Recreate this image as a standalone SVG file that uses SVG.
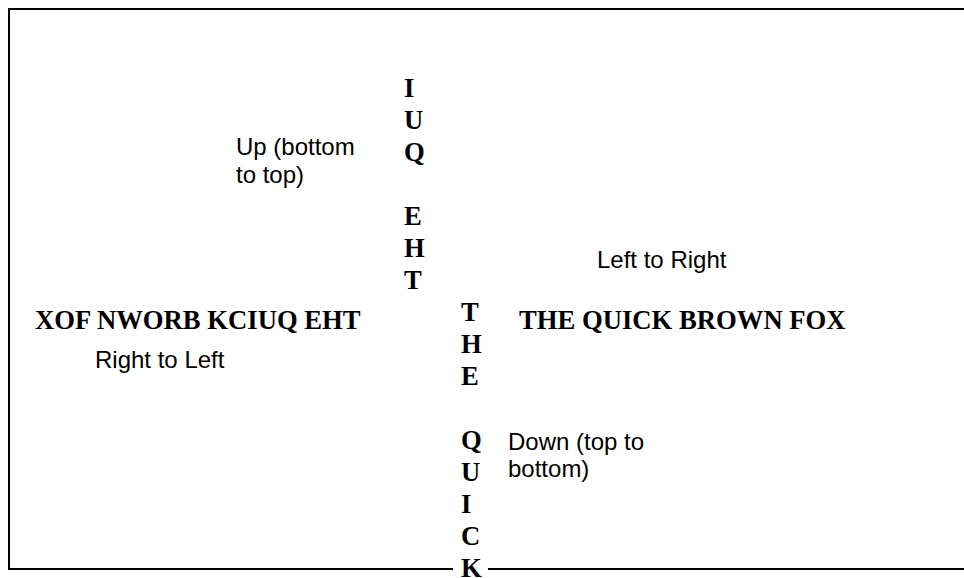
<svg xmlns="http://www.w3.org/2000/svg" width="964" height="578" viewBox="0 0 964 578">
<style>
.frame{fill:none;stroke:#000;stroke-width:2}
.big{font-family:"Liberation Serif","Times New Roman",serif;font-weight:bold;font-size:26.67px;fill:#000}
.cap{font-family:"Liberation Sans",Arial,sans-serif;font-size:24px;fill:#000}
</style>
<rect x="0" y="0" width="964" height="578" fill="#fff"/>
<g id="frame">
<path class="frame" d="M964,9 H9 V569 H453 M488,569 H964"/>
</g>
<g id="up">
<text class="big" x="404" y="97">I</text>
<text class="big" x="404" y="129">U</text>
<text class="big" x="404" y="161">Q</text>
<text class="big" x="404" y="225">E</text>
<text class="big" x="404" y="257">H</text>
<text class="big" x="404" y="289">T</text>
<text class="cap" x="236" y="155">Up (bottom</text>
<text class="cap" x="236" y="183">to top)</text>
</g>
<g id="ltr">
<text class="cap" x="597" y="268">Left to Right</text>
<text class="big" x="519" y="329">THE QUICK BROWN FOX</text>
</g>
<g id="rtl">
<text class="big" x="35" y="329">XOF NWORB KCIUQ EHT</text>
<text class="cap" x="95" y="368">Right to Left</text>
</g>
<g id="down">
<text class="big" x="461" y="321">T</text>
<text class="big" x="461" y="353">H</text>
<text class="big" x="461" y="385">E</text>
<text class="big" x="461" y="449">Q</text>
<text class="big" x="461" y="481">U</text>
<text class="big" x="461" y="513">I</text>
<text class="big" x="461" y="545">C</text>
<text class="big" x="461" y="577">K</text>
<text class="cap" x="508" y="450">Down (top to</text>
<text class="cap" x="508" y="477">bottom)</text>
</g>
</svg>
